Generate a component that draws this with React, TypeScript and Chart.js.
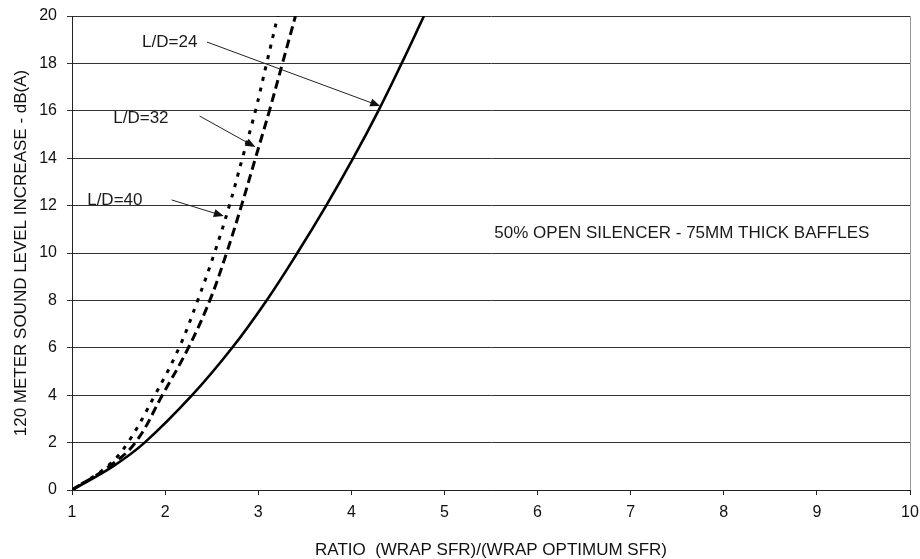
import React, { useEffect, useRef } from "react";
import { Chart, registerables } from "chart.js";

Chart.register(...registerables);

// Sound level increase (dB(A)) levels at which ratios were read
const levelsDB = [0, 1, 2, 4, 6, 8, 10, 12, 14, 16, 18, 20];
// Ratio (wrap SFR)/(wrap optimum SFR) for each L/D
const ratioLD24 = [1.0, 1.44, 1.78, 2.29, 2.72, 3.09, 3.42, 3.73, 4.02, 4.29, 4.54, 4.78];
const ratioLD32 = [1.0, 1.4, 1.68, 1.97, 2.25, 2.48, 2.66, 2.82, 2.97, 3.12, 3.26, 3.4];
const ratioLD40 = [1.0, 1.38, 1.6, 1.89, 2.15, 2.35, 2.53, 2.69, 2.83, 2.97, 3.09, 3.21];

const seriesNames = ["L/D=24", "L/D=32", "L/D=40"];
// annotation positions in data units
const labelX = [2.05, 1.74, 1.46];
const labelY = [18.88, 15.7, 12.24];
const arrowFromX = [2.45, 2.37, 2.07];
const arrowFromY = [18.9, 15.78, 12.24];
const arrowToX = [4.31, 2.97, 2.63];
const arrowToY = [16.2, 14.47, 11.56];

const noteText = "50% OPEN SILENCER - 75MM THICK BAFFLES";
const noteX = 7.55;
const noteY = 10.84;

const xTitle = "RATIO  (WRAP SFR)/(WRAP OPTIMUM SFR)";
const yTitle = "120 METER SOUND LEVEL INCREASE - dB(A)";
const xMin = 1, xMax = 10, xStep = 1;
const yMin = 0, yMax = 20, yStep = 2;

const FONT = "'Liberation Sans', Arial, Helvetica, sans-serif";

function pts(xs: number[], ys: number[]) {
  return xs.map((x, i) => ({ x, y: ys[i] }));
}

const annotationPlugin = {
  id: "annotations",
  afterDatasetsDraw(chart: any) {
    const { ctx, chartArea, scales } = chart;
    const xs = scales.x;
    const ys = scales.y;
    ctx.save();
    // right border
    ctx.strokeStyle = "#9a9a9a";
    ctx.lineWidth = 1;
    ctx.beginPath();
    ctx.moveTo(chartArea.right + 0.5, chartArea.top);
    ctx.lineTo(chartArea.right + 0.5, chartArea.bottom);
    ctx.stroke();

    ctx.fillStyle = "#1a1a1a";
    ctx.font = `17px ${FONT}`;
    ctx.textAlign = "center";
    ctx.textBaseline = "middle";
    for (let i = 0; i < seriesNames.length; i++) {
      ctx.fillText(seriesNames[i], xs.getPixelForValue(labelX[i]), ys.getPixelForValue(labelY[i]));
      const x1 = xs.getPixelForValue(arrowFromX[i]);
      const y1 = ys.getPixelForValue(arrowFromY[i]);
      const x2 = xs.getPixelForValue(arrowToX[i]);
      const y2 = ys.getPixelForValue(arrowToY[i]);
      const ang = Math.atan2(y2 - y1, x2 - x1);
      const hl = 10, hw = 4;
      ctx.strokeStyle = "#222";
      ctx.lineWidth = 1;
      ctx.beginPath();
      ctx.moveTo(x1, y1);
      ctx.lineTo(x2 - Math.cos(ang) * hl * 0.8, y2 - Math.sin(ang) * hl * 0.8);
      ctx.stroke();
      ctx.fillStyle = "#111";
      ctx.beginPath();
      ctx.moveTo(x2, y2);
      ctx.lineTo(x2 - Math.cos(ang) * hl - Math.sin(ang) * hw, y2 - Math.sin(ang) * hl + Math.cos(ang) * hw);
      ctx.lineTo(x2 - Math.cos(ang) * hl + Math.sin(ang) * hw, y2 - Math.sin(ang) * hl - Math.cos(ang) * hw);
      ctx.closePath();
      ctx.fill();
      ctx.fillStyle = "#1a1a1a";
    }
    ctx.fillText(noteText, xs.getPixelForValue(noteX), ys.getPixelForValue(noteY));
    ctx.restore();
  },
};

export default function App() {
  const ref = useRef<HTMLCanvasElement | null>(null);
  useEffect(() => {
    document.body.style.margin = "0";
    const canvas = ref.current!;
    const chart = new Chart(canvas, {
      type: "line",
      data: {
        datasets: [
          {
            label: seriesNames[0],
            data: pts(ratioLD24, levelsDB),
            borderColor: "#000",
            borderWidth: 2.6,
            pointRadius: 0,
            tension: 0.4,
            fill: false,
          },
          {
            label: seriesNames[1],
            data: pts(ratioLD32, levelsDB),
            borderColor: "#000",
            borderWidth: 3,
            borderDash: [9, 5],
            pointRadius: 0,
            tension: 0.4,
            fill: false,
          },
          {
            label: seriesNames[2],
            data: pts(ratioLD40, levelsDB),
            borderColor: "#000",
            borderWidth: 3,
            borderDash: [4, 7],
            pointRadius: 0,
            tension: 0.4,
            fill: false,
          },
        ],
      },
      options: {
        animation: false,
        responsive: false,
        maintainAspectRatio: false,
        layout: { padding: { top: 16, right: 10, left: 0, bottom: 0 } },
        plugins: {
          legend: { display: false },
          tooltip: { enabled: false },
        },
        scales: {
          x: {
            type: "linear",
            min: xMin,
            max: xMax,
            ticks: {
              stepSize: xStep,
              color: "#111",
              font: { family: FONT, size: 16 },
              padding: 8,
              maxRotation: 0,
            },
            grid: { drawOnChartArea: false, drawTicks: true, tickLength: 5, color: "#222" },
            border: { color: "#222", width: 1 },
            title: {
              display: true,
              text: xTitle,
              color: "#111",
              font: { family: FONT, size: 17, lineHeight: 1 },
              padding: { top: 0, bottom: 0 },
            },
            afterFit(scale: any) {
              scale.height = 69;
              scale.paddingLeft = 0;
              scale.paddingRight = 0;
            },
          },
          y: {
            type: "linear",
            min: yMin,
            max: yMax,
            ticks: {
              stepSize: yStep,
              color: "#111",
              font: { family: FONT, size: 16 },
              padding: 10,
            },
            grid: { drawOnChartArea: true, drawTicks: true, tickLength: 5, color: "#333", lineWidth: 1 },
            border: { color: "#222", width: 1 },
            title: {
              display: true,
              text: yTitle,
              color: "#111",
              font: { family: FONT, size: 17, lineHeight: 1 },
              padding: { top: 13, bottom: 0 },
            },
            afterFit(scale: any) {
              scale.width = 72;
              scale.paddingTop = 0;
              scale.paddingBottom = 0;
            },
          },
        },
      },
      plugins: [annotationPlugin],
    });
    return () => chart.destroy();
  }, []);
  return (
    <div style={{ width: 920, height: 559, background: "#fff" }}>
      <canvas ref={ref} width={920} height={559} style={{ display: "block" }} />
    </div>
  );
}
